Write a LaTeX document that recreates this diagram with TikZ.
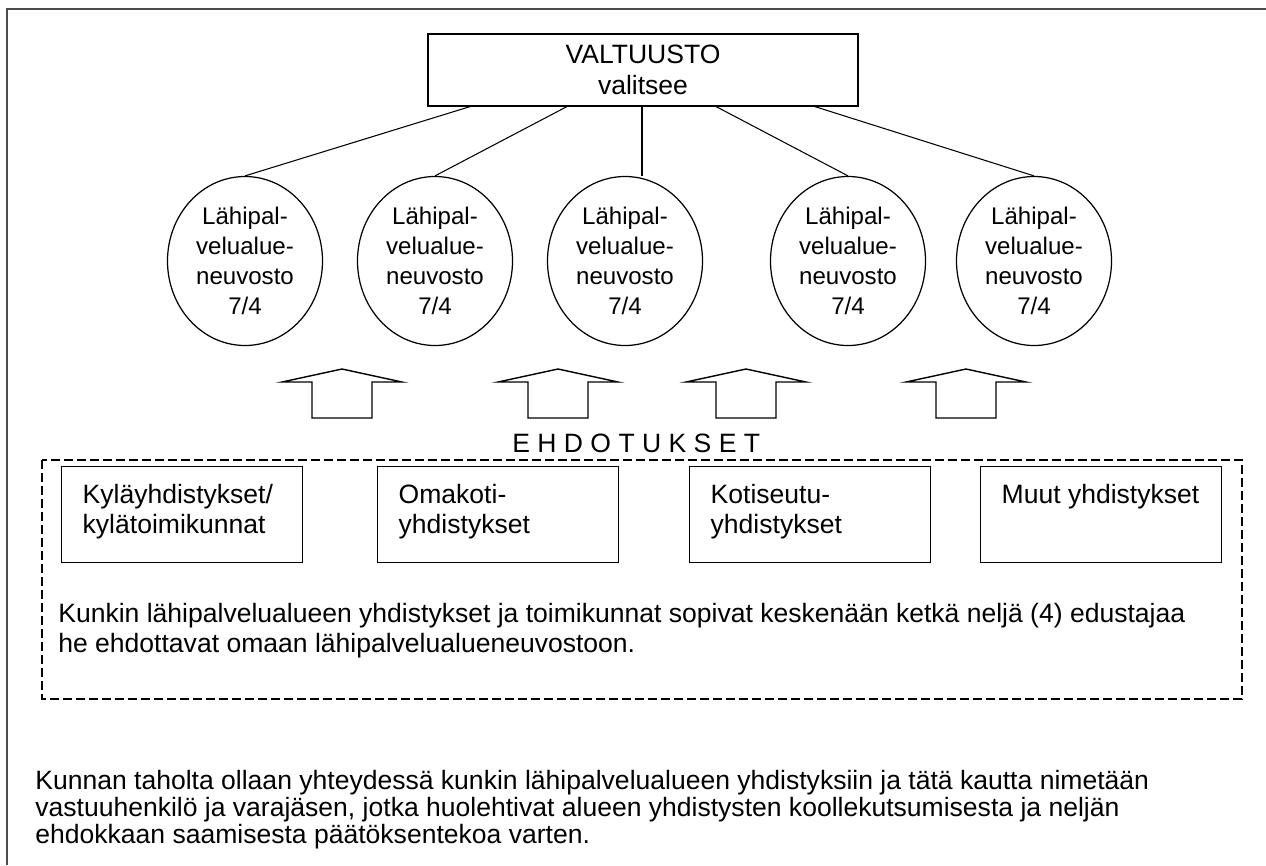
\documentclass[tikz,border=0pt]{standalone}
\usepackage{fontspec}
\setmainfont{Liberation Sans}
\usetikzlibrary{shapes.geometric}

\newcommand{\yhdteksti}[1]{\parbox[c][12mm][t]{39.8mm}{\raggedright #1}}

\begin{document}
\begin{tikzpicture}[x=0.2mm,y=-0.2mm,
  every node/.style={font=\fontsize{15.1}{17}\selectfont},
  valtuusto/.style={draw,line width=1.1pt,minimum width=86mm,minimum height=14.4mm,
    inner sep=0pt,align=center,font=\fontsize{15.1}{18}\selectfont},
  neuvosto/.style={draw,ellipse,line width=0.7pt,minimum width=31mm,minimum height=33.8mm,
    inner sep=0pt,align=center,font=\fontsize{13.7}{17}\selectfont},
  yhdbox/.style={draw,line width=0.8pt,minimum width=48.2mm,minimum height=19.2mm,
    inner sep=0pt,anchor=north west},
  teksti/.style={anchor=north west,inner sep=0pt,align=left},
  yhteys/.style={line width=0.6pt},
  nuoli/.style={line width=0.8pt,line join=miter},
  katko/.style={line width=0.7pt,dash pattern=on 1.8mm off 0.8mm}]
  \useasboundingbox (0,0) rectangle (1266,865);
  % frame
  \draw[black!70,line width=0.8pt] (1266,9) -- (7,9) -- (7,865);

  \node[valtuusto] (valtuusto) at (643,70) {VALTUUSTO\\valitsee};
  \foreach \x [count=\i] in {245,435,625,848,1034}
    \node[neuvosto] (n\i) at (\x,261) {Lähipal-\\velualue-\\neuvosto\\7/4};

  \foreach \x [count=\i] in {472,568,642,715,813}
    \coordinate (v\i) at (\x,106);
  \foreach \i in {1,2,4,5}
    \draw[yhteys] (v\i) -- (n\i.north);
  \draw[yhteys] (v3) -- (v3 |- n3.north);

  % block arrows
  \foreach \x in {342,558,746,966}
    \draw[nuoli] (\x,369) -- ++(60,13) -- ++(-30,0) -- ++(0,36) -- ++(-60,0)
      -- ++(0,-36) -- ++(-30,0) -- cycle;

  \node[anchor=base west,inner sep=0pt] (ehdotukset) at (512,452) {E H D O T U K S E T};
  \draw[katko] (42,460) rectangle (1242,699);

  \node[yhdbox] (kyla) at (61,466) {\yhdteksti{Kyläyhdistykset/\\kylätoimikunnat}};
  \node[yhdbox] (omakoti) at (377,466) {\yhdteksti{Omakoti-\\yhdistykset}};
  \node[yhdbox] (kotiseutu) at (689,466) {\yhdteksti{Kotiseutu-\\yhdistykset}};
  \node[yhdbox] (muut) at (980,466) {\yhdteksti{Muut yhdistykset}};

  \node[teksti] (sopimus) at (58,603)
    {Kunkin lähipalvelualueen yhdistykset ja toimikunnat sopivat keskenään ketkä neljä (4) edustajaa\\
     he ehdottavat omaan lähipalvelualueneuvostoon.};
  \node[teksti,font=\fontsize{15.1}{15.3}\selectfont] (kunta) at (35,770)
    {Kunnan taholta ollaan yhteydessä kunkin lähipalvelualueen yhdistyksiin ja tätä kautta nimetään\\
     vastuuhenkilö ja varajäsen, jotka huolehtivat alueen yhdistysten koollekutsumisesta ja neljän\\
     ehdokkaan saamisesta päätöksentekoa varten.};
\end{tikzpicture}
\end{document}
